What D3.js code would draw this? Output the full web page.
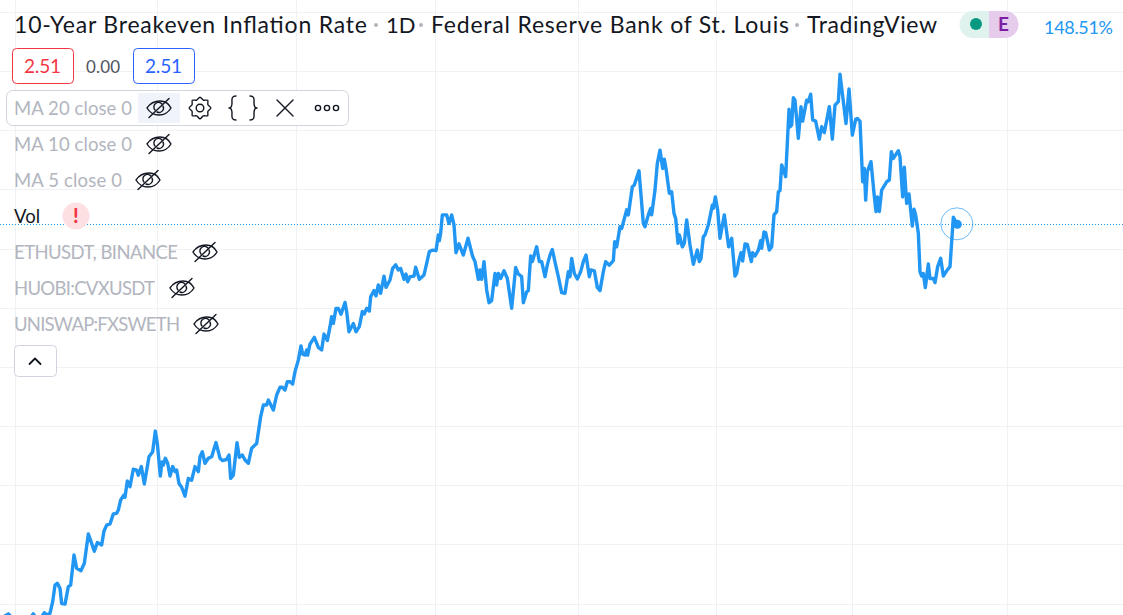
<!DOCTYPE html>
<html>

<head>
    <meta charset="utf-8">
    <style>
        html, body {
            margin: 0;
            background: #fff;
            overflow: hidden;
        }

        svg {
            display: block;
            font-family: Lato, "Open Sans", sans-serif;
        }

        .grid line {
            stroke: #f0f1f4;
            stroke-width: 1;
        }

        .icon {
            fill: none;
            stroke: #131722;
            stroke-width: 1.4;
            stroke-linecap: round;
            stroke-linejoin: round;
        }
    </style>
</head>

<body>
    <svg width="1123" height="615"></svg>

    <script src="https://d3js.org/d3.v7.min.js"></script>

    <script>
        // Time is in arbitrary steps of a third of a bar slot, % is change from the series start
        let times = [
            0, 25, 50, 75, 100, 115, 133, 140, 150, 158, 165, 172, 180, 185, 195, 205, 212, 222, 230, 243, 253, 265, 283, 292, 305, 312, 320, 330, 340, 350, 355, 362, 372, 375, 382, 390, 400, 410, 415, 424, 433, 447, 458, 466, 472, 481, 486, 490, 496, 503, 510, 518, 525, 530, 537, 545, 555, 565, 575, 585, 595, 600, 607, 615, 625, 635, 648, 660, 668, 680, 687, 692, 700, 711, 718, 727, 735, 745, 755, 770, 782, 790, 800, 805, 820, 830,
            840, 847, 855, 862, 870, 878, 885, 895, 903, 908, 915, 920, 923, 930, 943, 955, 965, 972, 982, 990, 995, 1000, 1008, 1015, 1023, 1035, 1040, 1047, 1060, 1068, 1078, 1087, 1093, 1100, 1108, 1112, 1122, 1128, 1135, 1142, 1152, 1158, 1170, 1178, 1187, 1195, 1202, 1212, 1218, 1223, 1230, 1242, 1247, 1258, 1272, 1280, 1288, 1298, 1308, 1315, 1318, 1322, 1327, 1335, 1340, 1347, 1355, 1362, 1368, 1377, 1390, 1404, 1418, 1425, 1435, 1440, 1445, 1452, 1460, 1467, 1475, 1485, 1490, 1495, 1502, 1512, 1522, 1535, 1547, 1555, 1565, 1570, 1580, 1585, 1592, 1597, 1610, 1618, 1625, 1635, 1642, 1650,
            1657, 1667, 1675, 1685, 1695, 1705, 1710, 1715, 1723, 1732, 1742, 1750, 1758, 1768, 1773, 1783, 1792, 1800, 1810, 1817, 1828, 1840, 1844, 1850, 1860, 1865, 1880, 1885, 1897, 1903, 1917, 1930, 1935, 1945, 1952, 1955, 1965, 1972, 1980, 1988, 1993, 1998, 2008, 2015, 2022, 2027, 2034, 2038, 2047, 2053, 2060, 2070, 2080, 2092, 2098, 2103, 2110, 2115, 2125, 2137, 2140, 2146, 2153, 2160, 2173, 2186, 2195, 2205, 2210, 2217, 2223, 2228, 2235, 2242, 2254, 2258, 2265, 2275, 2282, 2285, 2292, 2297, 2308,
            2315, 2322, 2330, 2335, 2340, 2345, 2357, 2367, 2370, 2375, 2380, 2385, 2395, 2403, 2408, 2420, 2425, 2432, 2438, 2447, 2458, 2465, 2473, 2488, 2497, 2505, 2515, 2520, 2538, 2547, 2557, 2567, 2572, 2580, 2588, 2593, 2597, 2602, 2613, 2622, 2628, 2632, 2638, 2645, 2660, 2668, 2674, 2680, 2687, 2695, 2700, 2708, 2713, 2720, 2727, 2737, 2742, 2747, 2755, 2760, 2765, 2770, 2776, 2785, 2790, 2800, 2805, 2813, 2822, 2830, 2840, 2850, 2860, 2872
        ]

        let percents = [
            15.0, 16.8, 14.0, 13.0, 16.8, 14.0, 17.2, 16.4, 17.0, 20.9, 26.5, 27.1, 25.4, 20.3, 20.1, 26.0, 26.5, 36.7, 32.2, 31.4, 33.9, 43.8, 38.0, 40.9, 40.1, 44.8, 46.8, 47.2, 50.6, 50.8, 51.9, 55.3, 57.0, 56.2, 61.7, 59.8, 65.7, 65.4, 63.7, 66.6, 60.7, 69.9, 71.6, 78.6, 74.4, 63.4, 68.2, 67.1, 69.4, 67.7, 63.4, 66.6, 64.9, 65.4, 60.9, 59.6, 56.6, 62.6, 62.0, 66.6, 64.9, 69.9, 71.6, 67.7, 69.4, 69.9, 74.7, 69.4, 68.6, 69.0, 70.5, 62.6, 63.7, 74.7, 69.7, 70.5, 68.8, 67.7, 72.8, 74.4, 83.5, 87.4, 87.4, 89.1, 85.7, 90.8,
            93.4, 93.4, 92.5, 95.3, 95.3, 94.5, 98.7, 102.6, 107.4, 104.6, 104.3, 106.0, 104.3, 108.0, 110.3, 106.9, 106.0, 111.4, 109.2, 113.9, 117.3, 115.0, 120.1, 120.1, 118.1, 122.1, 119.0, 112.2, 115.0, 112.2, 113.9, 119.0, 118.2, 120.1, 119.2, 124.0, 126.1, 124.3, 128.0, 125.2, 131.0, 127.2, 129.7, 133.6, 134.8, 133.1, 133.6, 129.9, 131.7, 129.1, 130.8, 131.0, 134.0, 129.9, 131.4, 135.3, 139.3, 139.8, 139.6, 144.9, 143.0, 145.5, 151.7, 151.7, 151.7, 148.8, 151.7, 148.3, 138.9, 141.9, 138.1, 143.8, 137.6, 135.9, 129.9, 133.1, 129.9, 135.9, 126.3, 122.0, 122.7, 131.9, 128.0, 131.9, 130.2, 132.8, 130.2, 120.1, 133.9, 131.7, 130.8, 122.0, 125.7, 126.1, 137.8, 135.9, 140.9, 135.9, 135.9, 130.8, 134.8, 138.1,
            140.0, 134.7, 130.8, 125.4, 125.2, 132.5, 130.8, 137.0, 131.9, 130.0, 132.5, 135.9, 138.1, 130.8, 133.1, 132.8, 127.2, 126.1, 132.5, 135.9, 134.7, 136.2, 142.6, 140.9, 147.7, 147.1, 153.4, 151.7, 161.2, 161.8, 166.6, 148.8, 147.7, 151.7, 153.9, 151.7, 160.1, 169.1, 173.6, 167.4, 170.5, 167.4, 159.0, 159.5, 152.2, 150.5, 142.1, 144.9, 140.9, 142.1, 150.0, 141.5, 135.0, 139.8, 135.9, 137.0, 144.3, 144.9, 148.3, 155.0, 153.9, 157.8, 153.3, 143.8, 151.7, 140.9, 143.8, 131.0, 131.9, 136.4, 138.9, 136.1, 141.9, 141.7, 135.9, 138.9, 137.8, 139.8, 143.0, 140.4, 145.9, 145.7, 139.8,
            140.9, 151.7, 152.8, 159.5, 159.9, 168.6, 164.6, 187.4, 181.5, 182.1, 191.3, 190.5, 177.6, 188.3, 183.4, 190.5, 190.0, 192.5, 183.8, 183.4, 177.3, 181.5, 179.5, 188.3, 177.3, 188.8, 190.0, 199.3, 182.6, 194.3, 178.7, 184.0, 184.3, 183.4, 162.9, 167.4, 156.7, 166.3, 169.7, 159.0, 152.8, 157.8, 152.8, 160.1, 162.9, 163.5, 173.1, 170.8, 172.0, 173.4, 171.4, 157.8, 167.8, 155.6, 158.8, 147.9, 153.6, 151.7, 145.5, 132.5, 131.0, 131.9, 127.1, 135.1, 130.2, 130.2, 128.8, 134.2, 137.0, 131.0, 132.8, 134.2, 150.9, 148.51
        ]

        // Unlabelled gridlines of the pane
        let gridTimes = [46, 472, 889, 1305, 1733, 2147, 2557, 3021]
        let gridPercents = [20.3, 40.3, 60.3, 80.3, 100.3, 120.3, 140.3, 160.3, 180.3, 200.3, 220.3]

        let lastPrice = "2.51"
        let lastChange = "0.00"
        let lastPercent = "148.51%"

        let hiddenStudies = ["MA 20 close 0", "MA 10 close 0", "MA 5 close 0"]
        let hiddenSymbols = ["ETHUSDT, BINANCE", "HUOBI:CVXUSDT", "UNISWAP:FXSWETH"]

        let width = 1123
        let height = 615

        let data = times.map((t, i) => ({ t: t, p: percents[i] }))

        let svg = d3.select("svg")

        let x = d3.scaleLinear()
            .domain([0, 3369])
            .range([0, width])

        let y = d3.scaleLinear()
            .domain([20.3, 220.3])
            .range([603.5, 12])

        // Gridlines
        let grid = svg.append("g").attr("class", "grid")

        grid.selectAll(".h")
            .data(gridPercents)
            .join("line")
            .attr("class", "h")
            .attr("x1", 0)
            .attr("x2", width)
            .attr("y1", d => Math.round(y(d)) + 0.5)
            .attr("y2", d => Math.round(y(d)) + 0.5)

        grid.selectAll(".v")
            .data(gridTimes)
            .join("line")
            .attr("class", "v")
            .attr("y1", 0)
            .attr("y2", height)
            .attr("x1", d => Math.round(x(d)) + 0.5)
            .attr("x2", d => Math.round(x(d)) + 0.5)

        // Last value line
        let last = data[data.length - 1]

        svg.append("line")
            .attr("x1", 0)
            .attr("x2", width)
            .attr("y1", Math.floor(y(last.p)) + 0.5)
            .attr("y2", Math.floor(y(last.p)) + 0.5)
            .attr("stroke", "#2196f3")
            .attr("stroke-width", 1)
            .attr("stroke-dasharray", "1 2")

        // The series
        let line = d3.line()
            .x(d => x(d.t))
            .y(d => y(d.p))

        svg.append("path")
            .datum(data)
            .attr("d", line)
            .attr("fill", "none")
            .attr("stroke", "#2196f3")
            .attr("stroke-width", 3.4)
            .attr("stroke-linejoin", "round")
            .attr("stroke-linecap", "round")

        svg.append("circle")
            .attr("cx", x(last.t))
            .attr("cy", y(last.p))
            .attr("r", 4.5)
            .attr("fill", "#2196f3")

        svg.append("circle")
            .attr("cx", x(last.t) - 0.5)
            .attr("cy", y(last.p) - 0.5)
            .attr("r", 16)
            .attr("fill", "none")
            .attr("stroke", "#2196f3")
            .attr("stroke-opacity", 0.65)

        // Title row
        function label(txt, px, py, size, color, len) {
            let t = svg.append("text")
                .attr("x", px)
                .attr("y", py)
                .attr("font-size", size)
                .attr("fill", color)
                .text(txt)
            if (len) t.attr("textLength", len).attr("lengthAdjust", "spacing")
            return t
        }

        label("10-Year Breakeven Inflation Rate", 14, 33, 23, "#131722", 353)
        label("1D", 386, 33, 22, "#131722")
        label("Federal Reserve Bank of St. Louis", 431, 33, 23, "#131722", 358)
        label("TradingView", 807, 33, 23, "#131722", 130)

        svg.selectAll(".sep")
            .data([376, 421, 797])
            .join("circle")
            .attr("class", "sep")
            .attr("cx", d => d)
            .attr("cy", 25)
            .attr("r", 2)
            .attr("fill", "#b2b5be")

        // Market status pill
        svg.append("path")
            .attr("d", "M989 11H973a13.5 13.5 0 0 0 0 27H989Z")
            .attr("fill", "#dff2ee")
        svg.append("path")
            .attr("d", "M989 11H1005a13.5 13.5 0 0 1 0 27H989Z")
            .attr("fill", "#e6cbec")
        svg.append("circle")
            .attr("cx", 976)
            .attr("cy", 24)
            .attr("r", 6)
            .attr("fill", "#089981")
        label("E", 998, 31, 19, "#7b1fa2").attr("font-weight", 700)

        label(lastPercent, 1044, 34, 18, "#2196f3", 69)

        // Price boxes
        function priceBox(px, w, color) {
            svg.append("rect")
                .attr("x", px)
                .attr("y", 48.5)
                .attr("width", w)
                .attr("height", 35)
                .attr("rx", 4)
                .attr("fill", "#fff")
                .attr("stroke", color)
        }

        priceBox(12.5, 61, "#f23645")
        priceBox(133.5, 61, "#2962ff")
        label(lastPrice, 24, 73, 19, "#f23645", 37)
        label(lastChange, 86, 72.5, 17, "#50535e", 34)
        label(lastPrice, 145, 73, 19, "#2962ff", 37)

        // Legend
        svg.append("rect")
            .attr("x", 6.5)
            .attr("y", 90.5)
            .attr("width", 342)
            .attr("height", 35)
            .attr("rx", 6)
            .attr("fill", "#fff")
            .attr("stroke", "#d1d4dc")
        svg.append("rect")
            .attr("x", 138)
            .attr("y", 93)
            .attr("width", 42)
            .attr("height", 30)
            .attr("rx", 2)
            .attr("fill", "#f0f3fa")

        function eye(cx, cy) {
            let g = svg.append("g")
                .attr("class", "icon")
                .attr("transform", `translate(${cx},${cy})`)
            g.append("path").attr("d", "M-12 0C-8 -6 -3 -7 1 -7C6 -7 10 -4 12 0C9 5 5 7 0 7C-5 7 -9 5 -12 0Z")
            g.append("path").attr("d", "M-4 2A4.5 4.5 0 0 1 3 -4M4 -2A4.5 4.5 0 0 1 -2 4")
            g.append("path").attr("d", "M-10 9.5L10 -9.5")
        }

        function legendText(txt, py, color) {
            return label(txt, 14, py, 18.5, color)
        }

        let studyRows = [
            { y: 108, eye: 159 }, { y: 144, eye: 159 }, { y: 180, eye: 148 }
        ]
        hiddenStudies.forEach((s, i) => {
            legendText(s, studyRows[i].y + 7, "#b2b5be").attr("textLength", i == 2 ? 108 : 118)
            eye(studyRows[i].eye, studyRows[i].y)
        })

        legendText("Vol", 223, "#131722").attr("textLength", 26)
        svg.append("circle")
            .attr("cx", 76)
            .attr("cy", 216)
            .attr("r", 13.5)
            .attr("fill", "#fde0e2")
        label("!", 73, 223, 20, "#f23645").attr("font-weight", 900)

        let symbolRows = [
            { y: 252, eye: 205, len: 164 }, { y: 288, eye: 182, len: 141 }, { y: 324, eye: 206, len: 166 }
        ]
        hiddenSymbols.forEach((s, i) => {
            legendText(s, symbolRows[i].y + 7, "#b2b5be").attr("textLength", symbolRows[i].len)
            eye(symbolRows[i].eye, symbolRows[i].y)
        })

        // Legend toolbar icons
        let gear = svg.append("g")
            .attr("class", "icon")
            .attr("transform", "translate(200,108)")
        gear.append("circle").attr("r", 3.8)
        gear.append("path")
            .attr("d", d3.lineRadial().curve(d3.curveCardinalClosed)(
                d3.range(16).map(i => [(i * Math.PI) / 8, i % 2 == 0 ? 10.8 : 8.6])
            ))

        svg.append("path")
            .attr("class", "icon")
            .attr("d", "M236 96C231 96 232 100 232 103C232 106 231 108 229 108C231 108 232 110 232 113C232 116 231 120 236 120M250 96C255 96 254 100 254 103C254 106 255 108 257 108C255 108 254 110 254 113C254 116 255 120 250 120")

        svg.append("path")
            .attr("class", "icon")
            .attr("d", "M277 100L293 116M293 100L277 116")

        svg.selectAll(".more")
            .data([318, 327, 336])
            .join("circle")
            .attr("class", "icon more")
            .attr("cx", d => d)
            .attr("cy", 108)
            .attr("r", 2.6)

        // Collapse button
        svg.append("rect")
            .attr("x", 14.5)
            .attr("y", 345.5)
            .attr("width", 42)
            .attr("height", 31)
            .attr("rx", 4)
            .attr("fill", "#fff")
            .attr("stroke", "#d1d4dc")
        svg.append("path")
            .attr("class", "icon")
            .style("stroke-width", 1.8)
            .attr("d", "M29.5 364L35 358.5L40.5 364")
    </script>
</body>

</html>
